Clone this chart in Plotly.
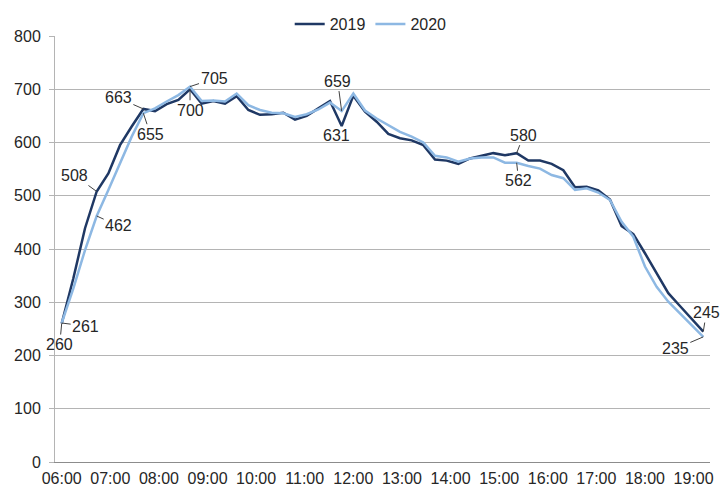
import pandas as pd
import plotly.graph_objects as go

# time slots: 56 readings every 14.4 minutes from 06:00
times = pd.date_range("2020-01-01 06:00", periods=56, freq="864s")

series_2019 = [260, 345, 439, 508, 542, 595, 630, 663, 659, 672, 680, 700, 673, 678, 673, 687,
               661, 652, 653, 656, 643, 650, 664, 678, 631, 688, 658, 639, 616, 608, 604, 595,
               568, 566, 560, 570, 575, 580, 576, 580, 566, 566, 560, 548, 516, 517, 510, 493,
               443, 428, 392, 354, 317, 293, 269, 245]
series_2020 = [261, 326, 398, 462, 511, 561, 611, 655, 664, 677, 689, 705, 678, 679, 677, 692,
               670, 661, 656, 655, 648, 653, 662, 675, 659, 692, 660, 645, 633, 620, 611, 600,
               575, 572, 564, 570, 572, 572, 562, 562, 556, 551, 539, 533, 511, 514, 506, 492,
               451, 423, 367, 329, 301, 279, 257, 235]

# labelled points: (index, x-offset px, y-offset px)
labels_2019 = [(0, -2, 21), (3, -22, -16), (7, -25, -11), (11, 0, 21), (24, -5, 10), (39, 7, -18), (55, 3, -19)]
labels_2020 = [(0, 24, 3), (3, 22, 10), (7, 7, 21), (11, 24, -8), (24, -4, -30), (39, 2, 18), (55, -28, 12)]

DARK = "#1f3864"
LIGHT = "#8db8e3"
FONT = "Liberation Sans"
FS = 16

fig = go.Figure()
fig.add_trace(go.Scatter(x=times, y=series_2019, mode="lines", name="2019",
                         line=dict(color=DARK, width=2.5)))
fig.add_trace(go.Scatter(x=times, y=series_2020, mode="lines", name="2020",
                         line=dict(color=LIGHT, width=2.5)))

for vals, labs in ((series_2019, labels_2019), (series_2020, labels_2020)):
    for i, ax, ay in labs:
        fig.add_annotation(x=times[i], y=vals[i], text=str(vals[i]), xref="x", yref="y",
                           showarrow=True, arrowhead=0, arrowwidth=1, arrowcolor="#404040",
                           ax=ax, ay=ay, standoff=0,
                           font=dict(family=FONT, size=FS, color="#262626"))

# the page adds an 8px body margin, so the figure margins are reduced to compensate
fig.update_layout(
    width=728, height=489,
    margin=dict(l=47, r=26, t=28, b=35, autoexpand=False),
    paper_bgcolor="white", plot_bgcolor="white",
    font=dict(family=FONT, size=FS, color="#262626"),
    showlegend=True,
    legend=dict(orientation="h", x=0.482, xanchor="center", y=1.028, yanchor="middle",
                font=dict(family=FONT, size=FS), bgcolor="rgba(0,0,0,0)",
                itemwidth=30, tracegroupgap=0),
)
fig.update_xaxes(
    type="date", automargin=False,
    range=["2020-01-01 05:51:44", "2020-01-01 19:20:16"],
    tick0="2020-01-01 06:00", dtick=3600000, tickformat="%H:%M",
    showgrid=False, showline=True, linecolor="#8c8c8c", linewidth=1,
    ticks="", zeroline=False, tickfont=dict(family=FONT, size=FS),
    ticklabelstandoff=2,
)
fig.update_yaxes(
    range=[0, 800], dtick=100, showgrid=True, gridcolor="#b4b4b4", gridwidth=1,
    automargin=False,
    showline=True, linecolor="#b4b4b4", linewidth=1, ticks="outside", ticklen=5,
    tickcolor="#b4b4b4", zeroline=False, tickfont=dict(family=FONT, size=FS),
    ticklabelstandoff=5,
)

fig.write_html("out.html")
